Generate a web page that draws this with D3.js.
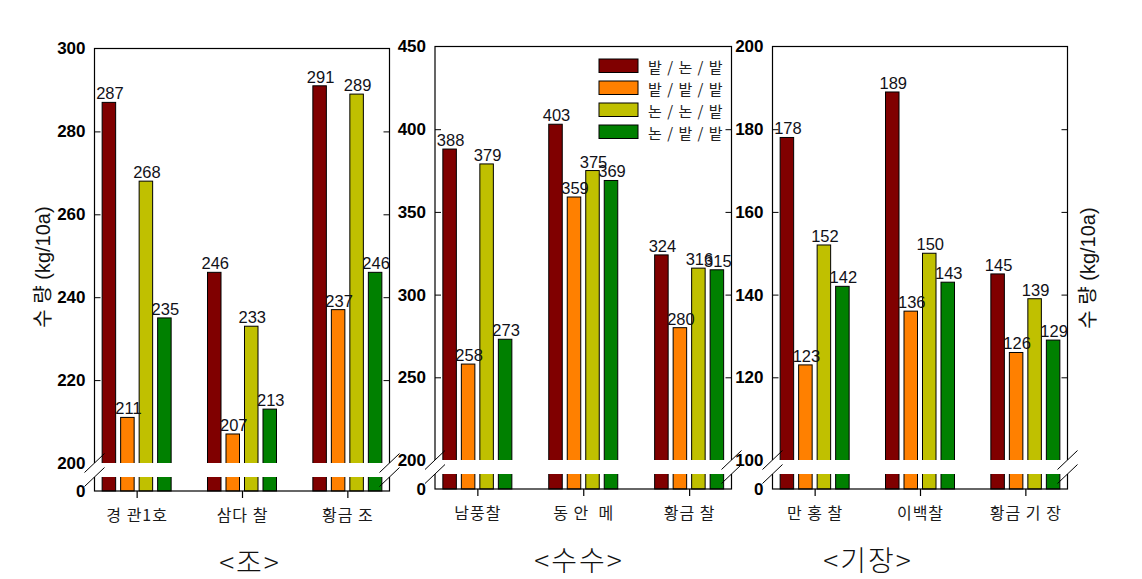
<!DOCTYPE html>
<html>
<head>
<meta charset="utf-8">
<script src="https://cdn.jsdelivr.net/npm/d3@7"></script>
<style>
  html, body { margin: 0; padding: 0; background: #ffffff; }
  svg { display: block; }
</style>
</head>
<body>
<svg id="chart" width="1142" height="579"></svg>
<script>
// ---------------- data ----------------
const seriesNames = ["밭 / 논 / 밭", "밭 / 밭 / 밭", "논 / 논 / 밭", "논 / 밭 / 밭"];
const seriesColors = ["#800000", "#ff8000", "#c0c000", "#008000"];

const categoriesJo = ["경 관1호", "삼다 찰", "황금 조"];
const valuesJo = [[287, 211, 268, 235], [246, 207, 233, 213], [291, 237, 289, 246]];
const ticksJo = [0, 200, 220, 240, 260, 280, 300];

const categoriesSusu = ["남풍찰", "동 안  메", "황금 찰"];
const valuesSusu = [[388, 258, 379, 273], [403, 359, 375, 369], [324, 280, 316, 315]];
const ticksSusu = [0, 200, 250, 300, 350, 400, 450];

const categoriesGijang = ["만 홍 찰", "이백찰", "황금 기 장"];
const valuesGijang = [[178, 123, 152, 142], [189, 136, 150, 143], [145, 126, 139, 129]];
const ticksGijang = [0, 100, 120, 140, 160, 180, 200];

const panelTitles = ["<조>", "<수수>", "<기장>"];
const yTitle = "수 량 (kg/10a)";

// ---------------- layout ----------------
const panels = [
  { cats: categoriesJo, vals: valuesJo, ticks: ticksJo, x0: 94.5, x1: 389.5, top: 48.5, brk: 463, bottom: 491, title: panelTitles[0], titleX: 250, titleY: 561 },
  { cats: categoriesSusu, vals: valuesSusu, ticks: ticksSusu, x0: 435, x1: 731.5, top: 46.5, brk: 460, bottom: 489, title: panelTitles[1], titleX: 579, titleY: 559 },
  { cats: categoriesGijang, vals: valuesGijang, ticks: ticksGijang, x0: 772.5, x1: 1067.5, top: 46.5, brk: 460, bottom: 489, title: panelTitles[2], titleX: 868, titleY: 559 }
];
const gapH = 14;

const svg = d3.select("#chart");
const numFont = "'Liberation Sans', Arial, sans-serif";
const krFont = "'Noto Sans CJK KR', 'Noto Sans', sans-serif";

panels.forEach((p, pi) => {
  const g = svg.append("g");
  const ticks = p.ticks;
  const brkVal = ticks[1];
  const maxVal = ticks[ticks.length - 1];
  // broken (polylinear) scale: 0..break compressed, break..max linear
  const y = d3.scaleLinear().domain([0, brkVal, maxVal]).range([p.bottom, p.brk, p.top]);
  const x = d3.scalePoint().domain(p.cats).range([p.x0, p.x1]).padding(0.4);
  const xs = d3.scaleBand().domain(seriesNames).range([-34.5, 34.5]).paddingInner(0.27);

  // bars
  p.cats.forEach((c, ci) => {
    const cg = g.append("g").attr("transform", `translate(${x(c)},0)`);
    cg.selectAll("rect").data(p.vals[ci]).join("rect")
      .attr("x", (d, i) => xs(seriesNames[i]))
      .attr("y", d => y(d))
      .attr("width", xs.bandwidth())
      .attr("height", d => p.bottom - y(d))
      .attr("fill", (d, i) => seriesColors[i])
      .attr("stroke", "#000")
      .attr("stroke-width", 1);
    cg.selectAll("text").data(p.vals[ci]).join("text")
      .attr("x", (d, i) => xs(seriesNames[i]) + xs.bandwidth() / 2 + 1)
      .attr("y", d => y(d) - 3)
      .attr("text-anchor", "middle")
      .attr("font-family", numFont)
      .attr("font-size", 16.5)
      .attr("fill", "#111118")
      .text(d => d);
  });

  // frame
  g.append("rect")
    .attr("x", p.x0).attr("y", p.top)
    .attr("width", p.x1 - p.x0).attr("height", p.bottom - p.top)
    .attr("fill", "none").attr("stroke", "#000").attr("stroke-width", 1.2);

  // inward ticks on both sides
  const inner = ticks.filter(t => t !== 0 && t !== brkVal && t !== maxVal);
  const yAxisL = d3.axisRight(y).tickValues(inner).tickSize(6).tickFormat("");
  g.append("g").attr("transform", `translate(${p.x0},0)`).call(yAxisL)
    .call(a => a.select(".domain").remove())
    .call(a => a.selectAll("line").attr("stroke", "#000"));
  const yAxisR = d3.axisLeft(y).tickValues(inner).tickSize(6).tickFormat("");
  g.append("g").attr("transform", `translate(${p.x1},0)`).call(yAxisR)
    .call(a => a.select(".domain").remove())
    .call(a => a.selectAll("line").attr("stroke", "#000"));

  // tick labels
  const yLab = d3.axisLeft(y).tickValues(ticks).tickSize(0).tickPadding(9);
  g.append("g").attr("transform", `translate(${p.x0},0)`).call(yLab)
    .call(a => a.select(".domain").remove())
    .call(a => a.selectAll("text")
      .attr("font-family", numFont).attr("font-size", 17).attr("font-weight", "bold").attr("fill", "#000"));

  // bottom axis ticks + category labels
  const xAxis = d3.axisBottom(x).tickSize(7).tickPadding(12);
  g.append("g").attr("transform", `translate(0,${p.bottom})`).call(xAxis)
    .call(a => a.select(".domain").remove())
    .call(a => a.selectAll("line").attr("stroke", "#000").attr("stroke-width", 1.2))
    .call(a => a.selectAll("text")
      .attr("font-family", krFont).attr("font-size", 16).attr("fill", "#1a1a1a")
      .attr("letter-spacing", 1)
      .attr("style", "white-space: pre"));

  // break gap
  g.append("rect")
    .attr("x", p.x0 - 3).attr("y", p.brk)
    .attr("width", p.x1 - p.x0 + 6).attr("height", gapH)
    .attr("fill", "#fff");
  [p.x0, p.x1].forEach(bx => {
    [p.brk, p.brk + gapH].forEach(by => {
      g.append("line")
        .attr("x1", bx - 10).attr("y1", by + 9.5)
        .attr("x2", bx + 10).attr("y2", by - 9.5)
        .attr("stroke", "#000").attr("stroke-width", 1);
    });
  });

  // panel title
  g.append("text")
    .attr("x", p.titleX).attr("y", p.titleY)
    .attr("text-anchor", "middle").attr("dominant-baseline", "central")
    .attr("font-family", krFont).attr("font-weight", 300).attr("font-size", 28)
    .attr("letter-spacing", 2)
    .attr("fill", "#111")
    .text(p.title);
});

// y-axis titles
[[43, 267], [1088, 268]].forEach(([tx, ty]) => {
  svg.append("text")
    .attr("transform", `translate(${tx},${ty}) rotate(-90)`)
    .attr("text-anchor", "middle").attr("dominant-baseline", "central")
    .attr("font-family", "'Liberation Sans', 'Noto Sans CJK KR', sans-serif")
    .attr("font-size", 20).attr("fill", "#111")
    .attr("style", "white-space: pre")
    .text(yTitle);
});

// legend (inside middle panel)
const leg = svg.append("g").attr("transform", "translate(599,59)");
const legRow = leg.selectAll("g").data(seriesNames).join("g")
  .attr("transform", (d, i) => `translate(0,${i * 22})`);
legRow.append("rect")
  .attr("width", 39).attr("height", 13.5)
  .attr("fill", (d, i) => seriesColors[i])
  .attr("stroke", "#000").attr("stroke-width", 1);
legRow.append("text")
  .attr("x", 49).attr("y", 7).attr("dominant-baseline", "central")
  .attr("font-family", krFont).attr("font-size", 15).attr("fill", "#222")
  .attr("letter-spacing", 1)
  .attr("style", "white-space: pre")
  .text(d => d);
</script>
</body>
</html>
